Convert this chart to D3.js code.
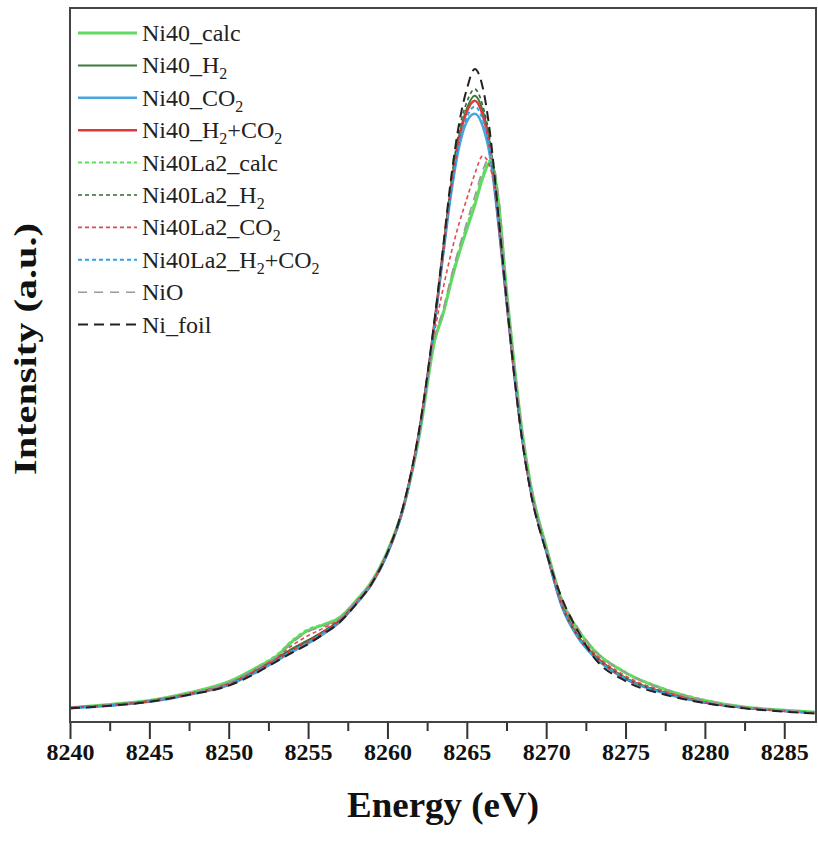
<!DOCTYPE html>
<html>
<head>
<meta charset="utf-8">
<script src="https://cdn.jsdelivr.net/npm/d3@7"></script>
<style>
	body { margin: 0; background: #fff; }
	#chart { width: 818px; height: 842px; }
	text { font-family: "Liberation Serif", "Times New Roman", serif; }
</style>
</head>
<body>
<div id="chart"></div>
<script>
// energy grid (eV), shared by every spectrum
let energy = [8240, 8242.5, 8245, 8247.5, 8250, 8252, 8253, 8254, 8255, 8256, 8257, 8258, 8259, 8260, 8261, 8262, 8263, 8263.5, 8264, 8264.5, 8265, 8265.5, 8266, 8266.5, 8267, 8267.5, 8268, 8268.5, 8269, 8270, 8271, 8272, 8273, 8275, 8277.5, 8280, 8282.5, 8285, 8287];

let ni40_calc		= [0.022, 0.027, 0.033, 0.045, 0.062, 0.087, 0.101, 0.124, 0.141, 0.150, 0.161, 0.186, 0.216, 0.263, 0.330, 0.440, 0.590, 0.628, 0.677, 0.721, 0.759, 0.796, 0.838, 0.863, 0.800, 0.665, 0.548, 0.445, 0.368, 0.270, 0.186, 0.142, 0.111, 0.076, 0.050, 0.033, 0.023, 0.018, 0.015];
let ni40_h2			= [0.022, 0.026, 0.032, 0.043, 0.059, 0.083, 0.098, 0.113, 0.126, 0.140, 0.157, 0.183, 0.213, 0.260, 0.330, 0.446, 0.620, 0.722, 0.822, 0.900, 0.945, 0.965, 0.942, 0.884, 0.772, 0.651, 0.535, 0.435, 0.361, 0.265, 0.180, 0.133, 0.104, 0.068, 0.045, 0.030, 0.022, 0.017, 0.014];
let ni40_co2		= [0.021, 0.025, 0.031, 0.042, 0.057, 0.080, 0.094, 0.108, 0.121, 0.136, 0.154, 0.181, 0.212, 0.259, 0.329, 0.445, 0.618, 0.717, 0.812, 0.884, 0.925, 0.937, 0.918, 0.866, 0.765, 0.648, 0.533, 0.434, 0.360, 0.263, 0.177, 0.130, 0.101, 0.066, 0.044, 0.030, 0.022, 0.017, 0.014];
let ni40_h2co2		= [0.022, 0.026, 0.032, 0.043, 0.058, 0.082, 0.096, 0.111, 0.124, 0.139, 0.156, 0.182, 0.213, 0.260, 0.331, 0.448, 0.622, 0.724, 0.822, 0.897, 0.940, 0.957, 0.935, 0.878, 0.770, 0.650, 0.534, 0.435, 0.360, 0.264, 0.179, 0.132, 0.103, 0.067, 0.045, 0.030, 0.022, 0.017, 0.014];
let la2_calc		= [0.022, 0.027, 0.033, 0.045, 0.062, 0.088, 0.103, 0.126, 0.143, 0.151, 0.162, 0.187, 0.217, 0.263, 0.331, 0.442, 0.592, 0.632, 0.682, 0.727, 0.765, 0.802, 0.843, 0.866, 0.805, 0.668, 0.550, 0.446, 0.369, 0.271, 0.187, 0.143, 0.112, 0.077, 0.051, 0.034, 0.023, 0.018, 0.015];
let la2_h2			= [0.022, 0.026, 0.032, 0.043, 0.059, 0.083, 0.097, 0.112, 0.125, 0.140, 0.157, 0.183, 0.214, 0.261, 0.332, 0.449, 0.624, 0.727, 0.830, 0.910, 0.955, 0.975, 0.950, 0.890, 0.775, 0.653, 0.536, 0.436, 0.361, 0.265, 0.180, 0.133, 0.104, 0.068, 0.045, 0.030, 0.022, 0.017, 0.014];
let la2_co2			= [0.022, 0.026, 0.032, 0.044, 0.060, 0.085, 0.099, 0.118, 0.133, 0.145, 0.159, 0.185, 0.215, 0.262, 0.331, 0.444, 0.605, 0.667, 0.721, 0.767, 0.806, 0.844, 0.872, 0.852, 0.772, 0.652, 0.536, 0.436, 0.362, 0.266, 0.183, 0.137, 0.107, 0.071, 0.047, 0.031, 0.022, 0.017, 0.014];
let la2_h2co2		= [0.022, 0.026, 0.032, 0.043, 0.058, 0.081, 0.095, 0.110, 0.123, 0.138, 0.155, 0.182, 0.213, 0.259, 0.330, 0.446, 0.620, 0.720, 0.817, 0.890, 0.932, 0.948, 0.928, 0.873, 0.768, 0.649, 0.534, 0.434, 0.360, 0.263, 0.178, 0.131, 0.102, 0.067, 0.044, 0.030, 0.022, 0.017, 0.014];
let nio				= [0.021, 0.026, 0.032, 0.044, 0.061, 0.086, 0.100, 0.122, 0.139, 0.148, 0.160, 0.186, 0.216, 0.263, 0.331, 0.441, 0.595, 0.635, 0.685, 0.730, 0.770, 0.810, 0.850, 0.872, 0.810, 0.668, 0.549, 0.445, 0.368, 0.270, 0.190, 0.145, 0.112, 0.076, 0.050, 0.033, 0.023, 0.018, 0.015];
let ni_foil			= [0.021, 0.025, 0.031, 0.042, 0.056, 0.079, 0.093, 0.107, 0.120, 0.136, 0.154, 0.181, 0.213, 0.261, 0.333, 0.450, 0.626, 0.730, 0.836, 0.920, 0.975, 1.006, 0.978, 0.900, 0.778, 0.652, 0.532, 0.432, 0.357, 0.262, 0.190, 0.140, 0.100, 0.063, 0.042, 0.029, 0.021, 0.016, 0.013];

let majorTicks	= [8240, 8245, 8250, 8255, 8260, 8265, 8270, 8275, 8280, 8285];
let minorTicks	= [8242.5, 8247.5, 8252.5, 8257.5, 8262.5, 8267.5, 8272.5, 8277.5, 8282.5];

// label parts: [text, isSubscript]
let series = [
	{ parts: [["Ni40_calc"]], values: ni40_calc, color: "#62d962", width: 3, dash: null },
	{ parts: [["Ni40_H"], ["2", 1]], values: ni40_h2, color: "#3a7a3a", width: 2, dash: null },
	{ parts: [["Ni40_CO"], ["2", 1]], values: ni40_co2, color: "#4aa6de", width: 2.5, dash: null },
	{ parts: [["Ni40_H"], ["2", 1], ["+CO"], ["2", 1]], values: ni40_h2co2, color: "#e0383a", width: 2.5, dash: null },
	{ parts: [["Ni40La2_calc"]], values: la2_calc, color: "#5be05b", width: 2, dash: "4,3" },
	{ parts: [["Ni40La2_H"], ["2", 1]], values: la2_h2, color: "#2f6a33", width: 1.6, dash: "4,3" },
	{ parts: [["Ni40La2_CO"], ["2", 1]], values: la2_co2, color: "#e0484c", width: 1.6, dash: "4,3" },
	{ parts: [["Ni40La2_H"], ["2", 1], ["+CO"], ["2", 1]], values: la2_h2co2, color: "#2ea4e0", width: 2, dash: "4,3" },
	{ parts: [["NiO"]], values: nio, color: "#9a9a9a", width: 1.6, dash: "9,7" },
	{ parts: [["Ni_foil"]], values: ni_foil, color: "#222222", width: 2, dash: "10,6" }
];

function createChart() {
	let canvasWidth		= 818;
	let canvasHeight	= 842;
	let margin			= { top: 8, right: 2, bottom: 120, left: 70 };
	let width			= canvasWidth - margin.left - margin.right;
	let height			= canvasHeight - margin.top - margin.bottom;

	let x = d3.scaleLinear().domain([8240, 8287]).range([0, width]);
	let y = d3.scaleLinear().domain([0, 1.1]).range([height, 0]);

	let svg = d3.select("#chart").append("svg")
		.attr("width", canvasWidth)
		.attr("height", canvasHeight)
		.append("g")
			.attr("transform", "translate(" + margin.left + "," + margin.top + ")");

	let line = d3.line()
		.x((d) => x(d[0]))
		.y((d) => y(d[1]))
		.curve(d3.curveMonotoneX);

	svg.append("defs").append("clipPath").attr("id", "clip")
		.append("rect").attr("width", width).attr("height", height);

	svg.append("g").attr("clip-path", "url(#clip)")
		.selectAll("path.spec")
		.data(series)
			.enter().append("path")
			.attr("class", "spec")
			.attr("d", (s) => line(energy.map((e, i) => [e, s.values[i]])))
			.attr("fill", "none")
			.attr("stroke", (s) => s.color)
			.attr("stroke-width", (s) => s.width)
			.attr("stroke-dasharray", (s) => s.dash);

	// x axis, major + minor ticks
	let xMajor = svg.append("g")
		.attr("transform", "translate(0," + height + ")")
		.call(d3.axisBottom(x).tickValues(majorTicks).tickSize(17).tickPadding(4).tickFormat(d3.format("d")));
	let xMinor = svg.append("g")
		.attr("transform", "translate(0," + height + ")")
		.call(d3.axisBottom(x).tickValues(minorTicks).tickSize(9).tickFormat(""));

	[xMajor, xMinor].forEach((g) => {
		g.select(".domain").remove();
		g.selectAll("line").attr("stroke", "#333").attr("stroke-width", 2);
	});
	xMajor.selectAll("text")
		.attr("font-family", "'Liberation Serif', serif")
		.attr("font-size", 24)
		.attr("font-weight", "bold")
		.attr("fill", "#111");

	// frame
	svg.append("rect")
		.attr("width", width)
		.attr("height", height)
		.attr("fill", "none")
		.attr("stroke", "#444")
		.attr("stroke-width", 2);

	svg.append("text")
		.attr("x", width / 2)
		.attr("y", height + 95)
		.attr("text-anchor", "middle")
		.attr("font-size", 36)
		.attr("font-weight", "bold")
		.attr("fill", "#111")
		.attr("textLength", 192)
		.attr("lengthAdjust", "spacingAndGlyphs")
		.text("Energy (eV)");

	svg.append("text")
		.attr("transform", "translate(-34," + (height / 2 - 16) + ") rotate(-90)")
		.attr("text-anchor", "middle")
		.attr("font-size", 31)
		.attr("font-weight", "bold")
		.attr("fill", "#111")
		.attr("textLength", 252)
		.attr("lengthAdjust", "spacingAndGlyphs")
		.text("Intensity (a.u.)");

	// legend
	let legend = svg.append("g").attr("transform", "translate(8,25)");
	let rows = legend.selectAll("g.row")
		.data(series)
			.enter().append("g")
			.attr("class", "row")
			.attr("transform", (s, i) => "translate(0," + (i * 32.4) + ")");

	rows.append("line")
		.attr("x1", 0).attr("x2", 59)
		.attr("stroke", (s) => s.color)
		.attr("stroke-width", (s) => s.width)
		.attr("stroke-dasharray", (s) => s.dash);

	let labels = rows.append("text")
		.attr("x", 64)
		.attr("y", 8)
		.attr("font-size", 24)
		.attr("fill", "#222");

	labels.each(function (s) {
		let t = d3.select(this);
		s.parts.forEach((p) => {
			let ts = t.append("tspan").text(p[0]);
			if (p[1]) ts.attr("font-size", 16).attr("dy", 6);
			else if (t.selectAll("tspan").size() > 1) ts.attr("dy", -6);
		});
	});
}

createChart();
</script>
</body>
</html>
